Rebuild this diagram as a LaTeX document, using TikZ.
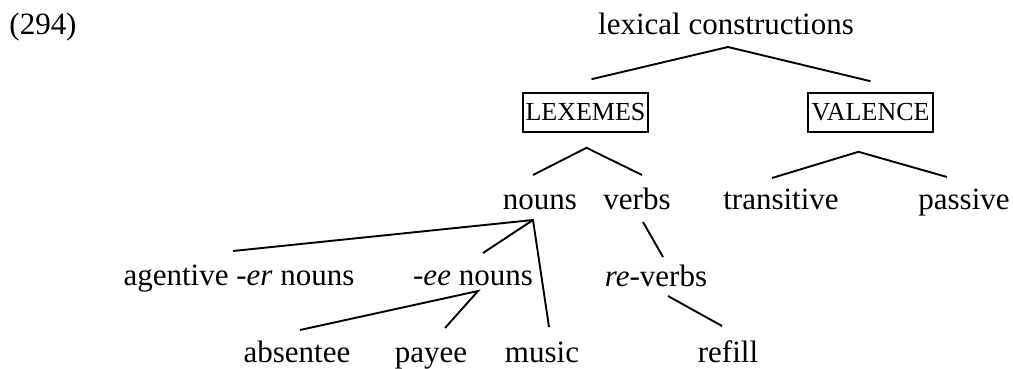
\documentclass[tikz,border=0pt]{standalone}
\usepackage{fontspec}
\setmainfont{Liberation Serif}
\begin{document}
\begin{tikzpicture}[x=1pt,y=1pt,
  lbl/.style={inner sep=0pt,anchor=base,font=\fontsize{31}{36}\selectfont},
  cbox/.style={draw,line width=1.6pt,inner sep=0pt,minimum width=125pt,minimum height=39pt,font=\fontsize{26}{30}\selectfont},
  edge/.style={line width=1.9pt}]
\useasboundingbox (0,0) rectangle (1013,-369);
\node[lbl] (ex) at (43,-35) {(294)};
\node[lbl] (lc) at (726,-35) {lexical constructions};
\node[cbox] (lex) at (585.5,-112.5) {LEXEMES};
\node[cbox] (val) at (870.5,-112.5) {VALENCE};
\node[lbl] (nouns) at (540,-209) {nouns};
\node[lbl] (verbs) at (637,-209) {verbs};
\node[lbl] (trans) at (781,-209) {transitive};
\node[lbl] (pass) at (964,-209) {passive};
\node[lbl] (agent) at (239,-285) {agentive \textit{-er} nouns};
\node[lbl] (ee) at (473,-285) {\textit{-ee} nouns};
\node[lbl] (rev) at (656,-286) {\textit{re}-verbs};
\node[lbl] (abs) at (297,-362) {absentee};
\node[lbl] (pay) at (431,-362) {payee};
\node[lbl] (mus) at (542,-362) {music};
\node[lbl] (ref) at (728,-362) {refill};
% edges
\draw[edge] ([shift={(6,13)}]lex.north) -- ([shift={(2,-12)}]lc.base) -- ([shift={(0,11)}]val.north);
\draw[edge] ([shift={(-7,34)}]nouns.base) -- ([shift={(1,-15)}]lex.south) -- ([shift={(5,34)}]verbs.base);
\draw[edge] ([shift={(-9,31)}]trans.base) -- ([shift={(-12,-19)}]val.south) -- ([shift={(-17,32)}]pass.base);
\draw[edge] ([shift={(-6,34)}]agent.base) -- ([shift={(-7,-11)}]nouns.base) -- ([shift={(7,35)}]mus.base);
\draw[edge] ([shift={(-7,-11)}]nouns.base) -- ([shift={(10,32)}]ee.base);
\draw[edge] ([shift={(3,32)}]abs.base) -- ([shift={(5,-6)}]ee.base) -- ([shift={(14,34)}]pay.base);
\draw[edge] ([shift={(6,-13)}]verbs.base) -- ([shift={(7,29)}]rev.base);
\draw[edge] ([shift={(12,-10)}]rev.base) -- ([shift={(-6,36)}]ref.base);
\end{tikzpicture}
\end{document}
